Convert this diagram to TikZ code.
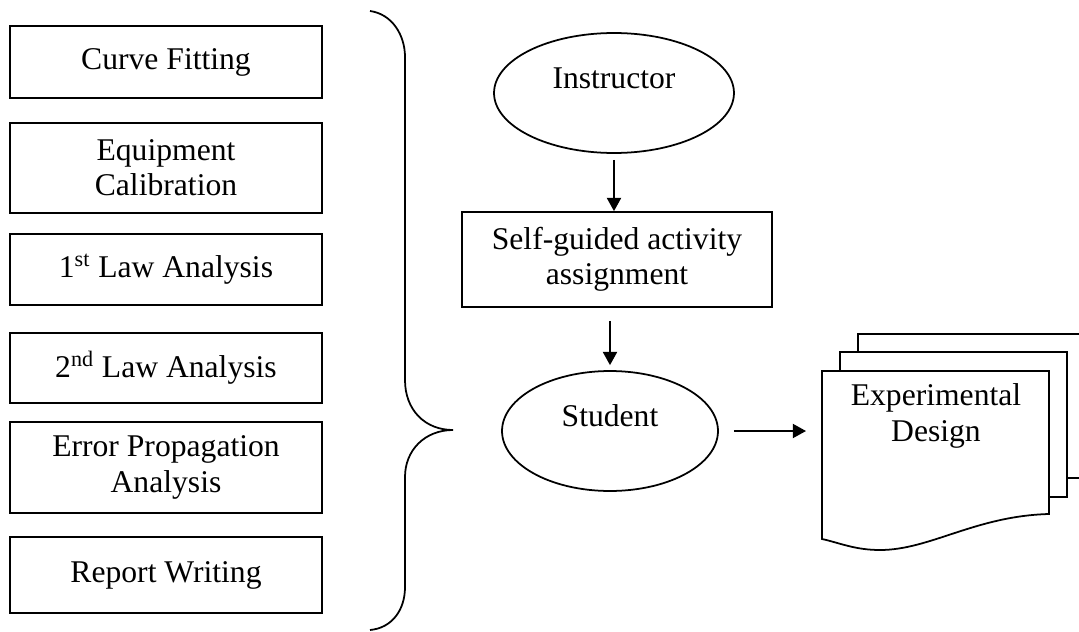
\documentclass[tikz,border=0pt]{standalone}
\usepackage{fontspec}
\setmainfont{Liberation Serif}
\usetikzlibrary{arrows.meta,shapes.geometric}

\begin{document}
\begin{tikzpicture}[
  x=0.02cm, y=-0.02cm,
  every node/.style={
    font=\fontsize{18}{20}\selectfont,
    align=center,
    inner sep=0pt
  },
  topic/.style={
    draw,
    rectangle,
    minimum width=6.24cm,
    line width=1pt
  },
  oval/.style={
    draw,
    ellipse,
    line width=1pt
  },
  page/.style={
    draw,
    fill=white,
    line width=1pt
  },
  flow/.style={
    -{Triangle[length=7.5pt,width=8pt]},
    line width=1pt
  }
]
  \useasboundingbox (0,0) rectangle (1079,632);
  \clip (0,0) rectangle (1079,632);

  % skills on the left
  \node[topic, minimum height=1.44cm] (fit) at (166,62) {Curve Fitting};
  \node[topic, minimum height=1.8cm] (calib) at (166,168) {Equipment\\Calibration};
  \node[topic, minimum height=1.42cm] (first) at (166,269.5) {1\textsuperscript{st} Law Analysis};
  \node[topic, minimum height=1.4cm] (second) at (166,368) {2\textsuperscript{nd} Law Analysis};
  \node[topic, minimum height=1.82cm] (error) at (166,467.5) {Error Propagation\\Analysis};
  \node[topic, minimum height=1.52cm] (report) at (166,575) {Report Writing};

  % brace
  \draw[line width=1pt] (370,11) .. controls (392,14) and (405,35) .. (405,57)
    -- (405,380) .. controls (405,410) and (425,430) .. (453,430)
    .. controls (425,430) and (405,450) .. (405,477)
    -- (405,587) .. controls (405,610) and (392,628) .. (370,630);

  \node[oval, minimum width=4.8cm, minimum height=2.4cm,
    label={[yshift=0.29cm]center:Instructor}] (instr) at (614,93) {};
  \node[draw, line width=1pt, minimum width=6.2cm, minimum height=1.9cm]
    (task) at (617,259.5) {Self-guided activity\\assignment};
  \node[oval, minimum width=4.32cm, minimum height=2.4cm,
    label={[yshift=0.3cm]center:Student}] (student) at (610,431) {};

  % stacked documents
  \draw[page] (858,334) rectangle (1095,478);
  \draw[page] (840,352) rectangle (1067,497);
  \draw[page] (822,371) -- (1049,371) -- (1049,514)
    .. controls (975,516) and (930,550) .. (880,550)
    .. controls (855,550) and (840,543) .. (822,539) -- cycle;
  \node (doc) at (936,416) {Experimental\\Design};
  \coordinate (docin) at (822,431);

  \draw[flow, shorten <=0.12cm] (instr.south) -- (instr.south |- task.north);
  \draw[flow, shorten <=0.26cm, shorten >=0.1cm] (student.north |- task.south) -- (student.north);
  \draw[flow, shorten <=0.3cm, shorten >=0.32cm] (student.east) -- (docin);
\end{tikzpicture}
\end{document}
